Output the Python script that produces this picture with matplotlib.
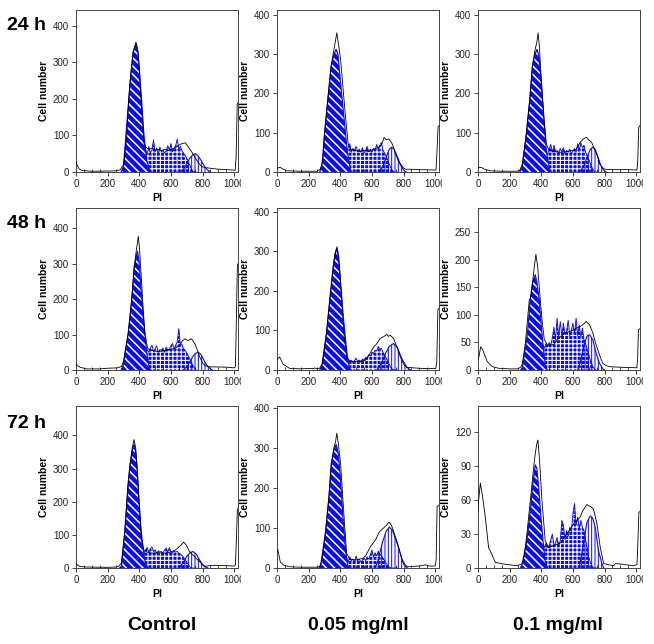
import matplotlib
matplotlib.use("Agg")
import matplotlib.pyplot as plt
from matplotlib.ticker import FixedLocator, MultipleLocator
from matplotlib.transforms import Bbox, TransformedBbox

plt.rcParams['font.family'] = ['Liberation Sans', 'DejaVu Sans']
plt.rcParams['hatch.linewidth'] = 0.9

BLUE = '#0a0af0'
W, H = 654, 644

row_labels = ["24 h", "48 h", "72 h"]
col_labels = ["Control", "0.05 mg/ml", "0.1 mg/ml"]

# channel grid for the S-phase fit
S_CH = list(range(390, 770, 10))

# ---- 24 h ----
c24_total = [(0, 28), (8, 18), (20, 8), (40, 4), (100, 2), (250, 3), (280, 6), (300, 20), (320, 90),
             (333, 200), (345, 265), (360, 325), (372, 345), (379, 355), (388, 340), (394, 322),
             (405, 240), (418, 150), (429, 80), (440, 68), (460, 62), (480, 65), (500, 60), (520, 62),
             (540, 58), (560, 62), (580, 58), (600, 62), (620, 64), (640, 70), (660, 76), (675, 78),
             (688, 80), (700, 75), (709, 69), (730, 56), (745, 45), (762, 33), (780, 22), (794, 15),
             (815, 12), (836, 11), (888, 8), (972, 6), (1006, 5), (1012, 40), (1019, 185), (1024, 190)]
c24_g1 = [(285, 0), (300, 15), (316, 105), (333, 195), (345, 258), (362, 330), (379, 350), (390, 330),
          (400, 285), (415, 195), (429, 105), (446, 33), (467, 3), (480, 0)]
c24_s = [0, 30, 45, 55, 50, 62, 48, 70, 52, 60, 88, 55, 65, 50, 68, 55, 60, 52, 58, 72,
         60, 78, 55, 65, 72, 90, 62, 70, 58, 52, 45, 38, 28, 18, 8, 2, 0, 0]
c24_g2 = [(650, 0), (680, 8), (700, 22), (720, 38), (740, 48), (755, 50), (770, 45), (790, 32),
          (810, 17), (830, 6), (850, 0)]

m24_total = [(0, 8), (10, 11), (20, 12), (35, 8), (63, 3), (150, 2), (250, 2), (275, 7), (290, 30),
             (300, 95), (321, 185), (342, 270), (355, 300), (368, 330), (378, 354), (385, 335),
             (402, 286), (418, 210), (433, 140), (450, 71), (465, 58), (490, 55), (520, 52), (550, 55),
             (580, 52), (610, 58), (640, 62), (660, 68), (677, 88), (690, 82), (708, 84), (729, 71),
             (750, 45), (765, 30), (782, 20), (800, 10), (814, 7), (846, 7), (900, 6), (1005, 5),
             (1011, 50), (1018, 115), (1024, 118)]
m24_g1 = [(270, 0), (285, 20), (300, 97), (321, 183), (342, 269), (360, 300), (374, 312), (385, 300),
          (402, 226), (423, 140), (444, 54), (465, 3), (475, 0)]
m24_s = [0, 15, 30, 45, 55, 50, 62, 72, 50, 60, 55, 65, 52, 58, 50, 62, 48, 55, 65, 52,
         58, 50, 60, 55, 70, 58, 68, 75, 55, 48, 40, 30, 20, 10, 4, 0, 0, 0]
m24_g2 = [(640, 0), (670, 15), (690, 38), (710, 58), (725, 63), (740, 58), (760, 40), (780, 18),
          (800, 5), (815, 0)]

h24_total = [(0, 10), (4, 11), (20, 12), (40, 7), (80, 3), (150, 2), (250, 2), (264, 4), (280, 20),
             (306, 100), (327, 185), (344, 270), (360, 310), (372, 330), (380, 354), (388, 320),
             (401, 226), (416, 140), (432, 71), (450, 55), (480, 52), (520, 50), (560, 52), (600, 55),
             (622, 58), (645, 75), (665, 84), (686, 88), (700, 82), (717, 76), (738, 58), (755, 40),
             (770, 20), (785, 12), (802, 7), (850, 6), (950, 6), (1005, 5), (1010, 30), (1016, 114),
             (1024, 118)]
h24_g1 = [(265, 0), (280, 15), (306, 97), (327, 183), (344, 269), (360, 300), (373, 312), (385, 295),
          (401, 226), (416, 140), (432, 54), (454, 3), (465, 0)]
h24_s = [0, 20, 35, 48, 52, 45, 58, 70, 50, 68, 52, 55, 48, 60, 50, 62, 45, 55, 50, 58,
         48, 52, 60, 50, 72, 55, 75, 62, 68, 50, 42, 32, 22, 12, 5, 0, 0, 0]
h24_g2 = [(640, 0), (665, 12), (690, 38), (710, 58), (725, 63), (740, 58), (755, 42), (775, 18),
          (795, 4), (810, 0)]

# ---- 48 h ----
c48_total = [(0, 19), (10, 12), (25, 8), (67, 3), (150, 3), (200, 5), (260, 6), (288, 10), (300, 25),
             (330, 105), (352, 200), (368, 290), (382, 340), (394, 377), (402, 340), (415, 245),
             (425, 170), (436, 102), (453, 60), (480, 55), (520, 52), (560, 55), (600, 58), (630, 62),
             (657, 70), (672, 82), (688, 88), (709, 83), (720, 86), (730, 88), (752, 74), (768, 55),
             (783, 36), (800, 20), (815, 12), (846, 9), (952, 8), (1002, 6), (1008, 10), (1014, 150),
             (1020, 296), (1024, 300)]
c48_g1 = [(285, 0), (300, 15), (330, 102), (352, 197), (368, 292), (380, 320), (389, 335), (398, 310),
          (408, 245), (425, 150), (446, 55), (463, 5), (475, 0)]
c48_s = [0, 10, 30, 45, 52, 48, 58, 50, 62, 70, 52, 60, 68, 50, 58, 55, 62, 50, 65, 55,
         60, 68, 75, 60, 70, 80, 117, 70, 72, 60, 55, 48, 40, 30, 20, 12, 5, 0]
c48_g2 = [(680, 0), (710, 15), (735, 36), (755, 47), (773, 50), (790, 44), (815, 22), (835, 9), (860, 0)]

m48_total = [(0, 25), (4, 28), (17, 33), (38, 15), (80, 4), (150, 3), (230, 4), (239, 5), (255, 3),
             (271, 5), (285, 15), (313, 95), (334, 180), (356, 265), (368, 295), (379, 312), (390, 290),
             (402, 221), (423, 93), (440, 33), (461, 20), (480, 22), (520, 22), (560, 25), (585, 40),
             (610, 58), (630, 66), (652, 80), (673, 84), (694, 90), (705, 85), (715, 88), (737, 80),
             (758, 58), (775, 38), (789, 24), (805, 12), (821, 7), (906, 4), (1004, 4), (1010, 20),
             (1017, 153), (1024, 156)]
m48_g1 = [(270, 0), (285, 12), (313, 93), (334, 179), (356, 264), (367, 295), (377, 307), (388, 285),
          (402, 221), (419, 136), (440, 50), (457, 5), (470, 0)]
m48_s = [0, 5, 15, 22, 25, 20, 28, 22, 25, 18, 24, 30, 22, 25, 20, 28, 25, 32, 30, 38,
         35, 45, 42, 50, 48, 60, 52, 55, 45, 38, 30, 22, 14, 6, 2, 0, 0, 0]
m48_g2 = [(630, 0), (660, 18), (685, 41), (710, 60), (737, 67), (760, 58), (790, 28), (820, 7), (845, 0)]

h48_total = [(0, 20), (6, 24), (17, 42), (28, 38), (38, 30), (59, 15), (91, 6), (133, 3), (200, 2),
             (250, 2), (270, 5), (281, 12), (300, 50), (324, 127), (334, 133), (345, 160), (355, 185),
             (366, 210), (377, 188), (392, 133), (405, 90), (419, 55), (440, 45), (480, 46), (500, 55),
             (550, 67), (600, 72), (620, 76), (652, 80), (670, 84), (684, 88), (705, 82), (726, 67),
             (742, 50), (758, 36), (775, 22), (789, 12), (810, 8), (832, 6), (900, 5), (1004, 4),
             (1009, 20), (1014, 73), (1024, 75)]
h48_g1 = [(270, 0), (281, 5), (313, 67), (330, 127), (345, 158), (355, 168), (362, 173), (372, 160),
          (387, 127), (404, 67), (419, 24), (430, 3), (440, 0)]
h48_s = [40, 42, 45, 40, 48, 42, 50, 45, 58, 78, 55, 94, 60, 88, 62, 85, 65, 70, 90, 62,
         72, 85, 65, 94, 62, 82, 60, 76, 55, 48, 38, 28, 18, 10, 4, 0, 0, 0]
h48_g2 = [(630, 0), (652, 22), (673, 48), (690, 62), (705, 64), (726, 55), (747, 30), (768, 12),
          (790, 2), (800, 0)]

# ---- 72 h ----
c72_total = [(0, 15), (10, 8), (25, 5), (60, 3), (200, 2), (255, 3), (270, 5), (287, 15), (308, 110),
             (323, 215), (329, 257), (340, 305), (355, 360), (367, 388), (378, 360), (392, 257),
             (402, 170), (413, 86), (428, 55), (450, 48), (480, 45), (520, 46), (560, 45), (600, 48),
             (630, 55), (654, 65), (670, 72), (681, 78), (696, 70), (717, 50), (732, 42), (748, 35),
             (764, 27), (780, 20), (795, 12), (811, 5), (840, 7), (885, 8), (950, 7), (1002, 6),
             (1008, 10), (1014, 90), (1020, 176), (1024, 180)]
c72_g1 = [(275, 0), (287, 5), (308, 106), (323, 206), (340, 307), (355, 355), (367, 373), (376, 355),
          (386, 307), (398, 206), (413, 106), (434, 25), (449, 2), (460, 0)]
c72_s = [0, 20, 40, 50, 45, 55, 62, 48, 58, 64, 50, 55, 45, 52, 48, 50, 45, 55, 60, 48,
         62, 50, 45, 52, 48, 50, 45, 42, 38, 32, 25, 18, 10, 4, 0, 0, 0, 0]
c72_g2 = [(650, 0), (675, 15), (700, 35), (720, 46), (738, 50), (760, 42), (780, 25), (800, 10),
          (820, 3), (835, 0)]

m72_total = [(0, 40), (4, 46), (10, 37), (21, 15), (42, 7), (85, 3), (150, 2), (250, 2), (270, 4),
             (285, 20), (307, 92), (328, 178), (342, 260), (360, 300), (370, 315), (378, 336),
             (388, 310), (402, 260), (423, 132), (440, 37), (460, 22), (500, 20), (540, 24), (560, 30),
             (592, 54), (624, 71), (645, 89), (660, 95), (677, 101), (695, 108), (708, 114), (718, 110),
             (729, 101), (745, 82), (761, 63), (777, 40), (793, 20), (810, 8), (825, 3), (900, 5),
             (940, 8), (960, 5), (1000, 5), (1006, 20), (1012, 153), (1024, 156)]
m72_g1 = [(265, 0), (275, 5), (307, 89), (328, 175), (345, 260), (360, 295), (374, 308), (388, 285),
          (402, 218), (416, 132), (433, 46), (448, 3), (460, 0)]
m72_s = [0, 5, 15, 22, 18, 25, 15, 28, 18, 22, 15, 30, 18, 22, 15, 20, 25, 18, 28, 22,
         32, 45, 28, 38, 30, 42, 35, 30, 25, 18, 12, 6, 2, 0, 0, 0, 0, 0]
m72_g2 = [(620, 0), (640, 20), (665, 62), (690, 92), (710, 102), (730, 94), (750, 72), (772, 46),
          (790, 20), (805, 6), (825, 0)]

h72_total = [(0, 50), (4, 60), (15, 75), (29, 63), (46, 45), (67, 18), (88, 12), (109, 5), (162, 3.5),
             (246, 2), (278, 3.5), (292, 10), (309, 30), (331, 60), (352, 89), (362, 101), (372, 110),
             (379, 113), (389, 95), (404, 60), (425, 24), (446, 18), (480, 20), (520, 22), (562, 30),
             (604, 39), (625, 42), (646, 45), (660, 50), (678, 54), (688, 56), (699, 55), (715, 54),
             (730, 52), (752, 39), (773, 18), (794, 4), (820, 3), (857, 2), (870, 4), (899, 3.5),
             (983, 2), (1005, 3), (1010, 20), (1017, 49), (1024, 50)]
h72_g1 = [(268, 0), (278, 3), (309, 24), (331, 51), (347, 75), (362, 91), (372, 88), (383, 72),
          (398, 45), (411, 24), (425, 6), (440, 0)]
h72_s = [15, 18, 20, 18, 22, 18, 20, 25, 30, 20, 22, 27, 20, 24, 42, 38, 25, 33, 28, 36,
         32, 48, 57, 38, 45, 35, 42, 36, 33, 25, 18, 10, 5, 2, 0, 0, 0, 0]
h72_g2 = [(640, 0), (667, 22), (688, 40), (709, 46), (725, 44), (741, 36), (762, 15), (783, 4), (795, 0)]

panels = [
    [(c24_total, c24_g1, c24_s, c24_g2), (m24_total, m24_g1, m24_s, m24_g2), (h24_total, h24_g1, h24_s, h24_g2)],
    [(c48_total, c48_g1, c48_s, c48_g2), (m48_total, m48_g1, m48_s, m48_g2), (h48_total, h48_g1, h48_s, h48_g2)],
    [(c72_total, c72_g1, c72_s, c72_g2), (m72_total, m72_g1, m72_s, m72_g2), (h72_total, h72_g1, h72_s, h72_g2)],
]

# axis ranges (ymax, tick step)
y_axes = [[(443, 100), (412, 100), (412, 100)],
          [(457, 100), (410, 100), (294, 50)],
          [(489, 100), (404, 100), (143, 30)]]

col_left = [76, 277, 478]
row_bottom = [172, 370, 568]
AX_W, AX_H = 162, 162


def xy(points):
    return [p[0] for p in points], [p[1] for p in points]


def hatch_lw(coll, lw):
    # per-artist hatch width where the installed matplotlib supports it
    try:
        coll.set_hatch_linewidth(lw)
    except AttributeError:
        pass


fig = plt.figure(figsize=(W / 100, H / 100), dpi=100)

for r in range(3):
    for c in range(3):
        total, g1, s_vals, g2 = panels[r][c]
        ymax, ystep = y_axes[r][c]
        left, bottom = col_left[c], row_bottom[r]
        ax = fig.add_axes([left / W, 1 - bottom / H, AX_W / W, AX_H / H])

        # S phase: checkerboard
        coll = ax.fill_between(S_CH, s_vals, 0, facecolor=BLUE, edgecolor='white', hatch='++++',
                               linewidth=0, zorder=1)
        hatch_lw(coll, 0.8)
        ax.plot(S_CH, s_vals, color=BLUE, lw=0.6, zorder=2)

        # G2 peak: vertical lines
        gx, gy = xy(g2)
        coll = ax.fill_between(gx, gy, 0, facecolor='none', edgecolor=BLUE, hatch='|||||',
                               linewidth=0, zorder=2)
        hatch_lw(coll, 0.7)
        ax.plot(gx, gy, color=BLUE, lw=0.8, zorder=3)

        # G1 peak: diagonal stripes
        gx, gy = xy(g1)
        coll = ax.fill_between(gx, gy, 0, facecolor=BLUE, edgecolor='white', hatch='\\\\\\\\',
                               linewidth=0, zorder=3)
        hatch_lw(coll, 1.1)
        ax.plot(gx, gy, color=BLUE, lw=0.8, zorder=4)

        tx, ty = xy(total)
        ax.plot(tx, ty, color='black', lw=0.6, zorder=5)

        ax.set_xlim(0, 1024)
        ax.set_ylim(0, ymax)
        ax.xaxis.set_major_locator(FixedLocator([0, 200, 400, 600, 800, 1000]))
        ax.xaxis.set_minor_locator(MultipleLocator(50))
        ax.set_xticklabels(['0', '200', '400', '600', '800', '1000'])
        yt = list(range(0, int(ymax) + 1, ystep))
        ax.yaxis.set_major_locator(FixedLocator(yt))
        ax.tick_params(axis='both', which='major', labelsize=7, length=3, width=0.6,
                       pad=2, direction='out', colors='#222222')
        ax.tick_params(axis='x', which='minor', length=2, width=0.5, direction='in')
        ax.tick_params(top=False, right=False)
        for sp in ax.spines.values():
            sp.set_linewidth(0.7)
            sp.set_color('#444444')
        ax.set_xlabel('PI', fontsize=7.5, fontweight='bold', labelpad=3)
        ax.set_ylabel('Cell number', fontsize=7.5, fontweight='bold', labelpad=3)

        # last x label is cut off at the panel edge, as in the source figure
        clip = TransformedBbox(Bbox([[0, 0], [(left + AX_W + 3) / W, 1]]), fig.transFigure)
        for t in ax.xaxis.get_major_ticks():
            t.label1.set_clip_on(True)
            t.label1.set_clip_box(clip)

row_y = [25, 224, 423]
for lab, y in zip(row_labels, row_y):
    fig.text(7 / W, 1 - y / H, lab, fontsize=14, fontweight='bold', ha='left', va='center')

col_x = [162, 358, 558]
for lab, x in zip(col_labels, col_x):
    fig.text(x / W, 1 - 626 / H, lab, fontsize=14, fontweight='bold', ha='center', va='center')

fig.savefig('out.png', dpi=100)
